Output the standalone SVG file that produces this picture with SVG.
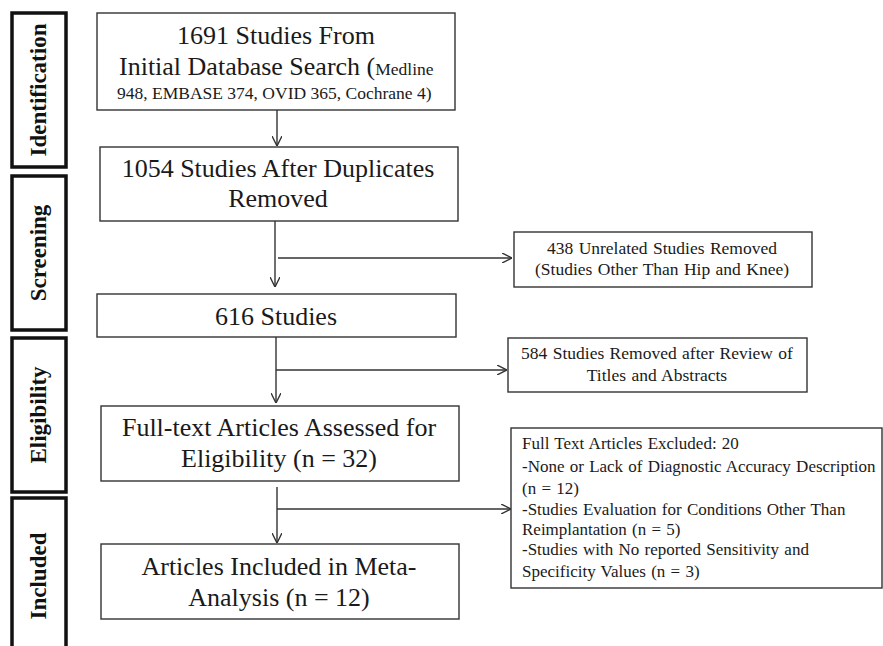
<svg xmlns="http://www.w3.org/2000/svg" width="883" height="646" viewBox="0 0 883 646">
<style>
.side{fill:none;stroke:#111;stroke-width:3.5}
.box{fill:#fff;stroke:#333;stroke-width:1.4}
.lbl{font-family:"Liberation Serif","Times New Roman",serif;font-weight:bold;font-size:23px;fill:#111;text-anchor:middle}
.big{font-family:"Liberation Serif","Times New Roman",serif;font-size:26px;fill:#1a1a1a;text-anchor:middle}
.sm{font-family:"Liberation Serif","Times New Roman",serif;font-size:17.5px;fill:#1a1a1a;word-spacing:1px}
.xs{font-family:"Liberation Serif","Times New Roman",serif;font-size:17px;fill:#1a1a1a;word-spacing:1px}
.mid{text-anchor:middle}
.ln{fill:none;stroke:#333;stroke-width:1.4}
</style>
<defs>
<marker id="ah" viewBox="0 0 10 10" refX="10" refY="5" markerWidth="10" markerHeight="10" markerUnits="userSpaceOnUse" orient="auto">
<path d="M0,0 L10,5 L0,10" fill="none" stroke="#333" stroke-width="1.4"/>
</marker>
</defs>
<rect width="883" height="646" fill="#fff"/>

<g id="stage-identification">
<rect class="side" x="12" y="13" width="54" height="154"/>
<text class="lbl" transform="translate(46,90) rotate(-90)">Identification</text>
</g>
<g id="stage-screening">
<rect class="side" x="12" y="176" width="54" height="154"/>
<text class="lbl" transform="translate(46,253) rotate(-90)">Screening</text>
</g>
<g id="stage-eligibility">
<rect class="side" x="12" y="338" width="54" height="154"/>
<text class="lbl" transform="translate(46,415) rotate(-90)">Eligibility</text>
</g>
<g id="stage-included">
<rect class="side" x="12" y="498" width="54" height="160"/>
<text class="lbl" transform="translate(46,576) rotate(-90)">Included</text>
</g>

<g id="n1691">
<rect class="box" x="97" y="13" width="358" height="97"/>
<text class="big" x="276" y="44">1691 Studies From</text>
<text x="119" y="75" style="font-family:'Liberation Serif','Times New Roman',serif;fill:#1a1a1a"><tspan font-size="26">Initial Database Search (</tspan><tspan font-size="17.5">Medline</tspan></text>
<text class="sm" x="117" y="99" style="word-spacing:0">948, EMBASE  374, OVID 365, Cochrane  4)</text>
</g>

<g id="n1054">
<rect class="box" x="100" y="147" width="358" height="74"/>
<text class="big" x="278" y="177">1054 Studies After Duplicates</text>
<text class="big" x="278" y="207">Removed</text>
</g>

<g id="n616">
<rect class="box" x="97" y="294" width="359" height="43"/>
<text class="big" x="276" y="325">616 Studies</text>
</g>

<g id="n32">
<rect class="box" x="101" y="406" width="358" height="75"/>
<text class="big" x="279" y="436">Full-text Articles Assessed for</text>
<text class="big" x="279" y="467">Eligibility  (n = 32)</text>
</g>

<g id="n12">
<rect class="box" x="101" y="544" width="358" height="75"/>
<text class="big" x="279" y="575">Articles Included in Meta-</text>
<text class="big" x="279" y="606">Analysis (n = 12)</text>
</g>

<g id="n438">
<rect class="box" x="514" y="232" width="298" height="55"/>
<text class="sm mid" x="662" y="254">438 Unrelated Studies Removed</text>
<text class="sm mid" x="662" y="275">(Studies Other Than Hip and Knee)</text>
</g>

<g id="n584">
<rect class="box" x="508" y="338" width="299" height="54"/>
<text class="sm mid" x="657" y="359">584 Studies Removed after Review of</text>
<text class="sm mid" x="657" y="381">Titles  and Abstracts</text>
</g>

<g id="n20">
<rect class="box" x="511" y="428" width="371" height="160"/>
<text class="xs" x="522" y="449">Full Text Articles Excluded: 20</text>
<text class="xs" x="522" y="472">-None or Lack of Diagnostic Accuracy Description</text>
<text class="xs" x="522" y="494">(n = 12)</text>
<text class="xs" x="522" y="515">-Studies Evaluation for Conditions Other Than</text>
<text class="xs" x="522" y="535">Reimplantation  (n = 5)</text>
<text class="xs" x="522" y="555">-Studies with No reported Sensitivity and</text>
<text class="xs" x="522" y="577">Specificity Values (n = 3)</text>
</g>

<g id="connectors">
<line class="ln" x1="277" y1="110" x2="277" y2="146" marker-end="url(#ah)"/>
<line class="ln" x1="275" y1="221" x2="275" y2="287" marker-end="url(#ah)"/>
<line class="ln" x1="278" y1="258" x2="512" y2="258" marker-end="url(#ah)"/>
<line class="ln" x1="276" y1="337" x2="276" y2="403" marker-end="url(#ah)"/>
<line class="ln" x1="276" y1="370" x2="507" y2="370" marker-end="url(#ah)"/>
<line class="ln" x1="277" y1="487" x2="277" y2="543" marker-end="url(#ah)"/>
<line class="ln" x1="277" y1="509" x2="511" y2="509" marker-end="url(#ah)"/>
</g>
</svg>
